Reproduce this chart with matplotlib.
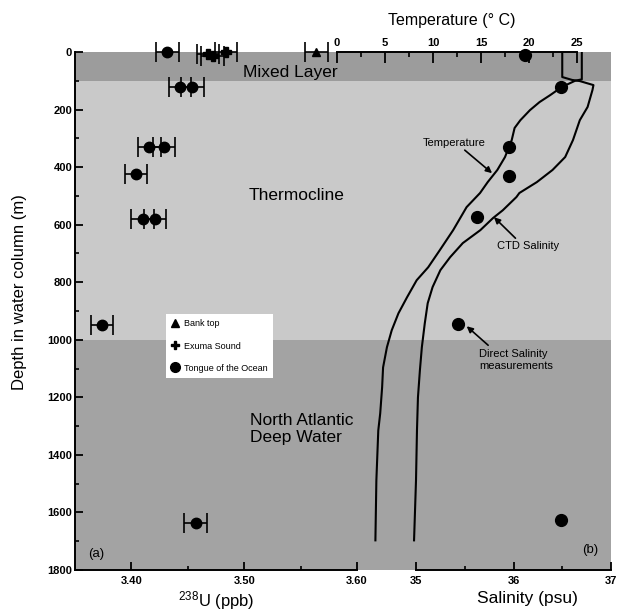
import matplotlib
matplotlib.use("Agg")
import matplotlib.pyplot as plt
from matplotlib.ticker import FixedLocator, MultipleLocator
from matplotlib.lines import Line2D

plt.rcParams["font.family"] = ["Liberation Sans", "DejaVu Sans"]
plt.rcParams["mathtext.fontset"] = "custom"
plt.rcParams["mathtext.rm"] = "Liberation Sans"
plt.rcParams["mathtext.it"] = "Liberation Sans:italic"

# (a) 238U profiles
tongue_depth = [0, 120, 120, 330, 330, 425, 580, 580, 950, 1635]
tongue_u = [3.432, 3.443, 3.454, 3.416, 3.429, 3.404, 3.410, 3.421, 3.374, 3.457]
tongue_err = [0.010, 0.010, 0.010, 0.010, 0.010, 0.010, 0.010, 0.010, 0.010, 0.010]

exuma_depth = [0, 8, 15]
exuma_u = [3.484, 3.468, 3.472]
exuma_err = [0.010, 0.010, 0.010]

bank_depth = [0]
bank_u = [3.564]
bank_err = [0.010]

# (b) CTD temperature / salinity and bottle salinity
temp_depth = [0, 95, 100, 122, 150, 174, 202, 237, 264, 306, 365, 410, 452, 490,
              539, 619, 689, 748, 793, 852, 908, 967, 1026, 1096, 1165, 1256,
              1315, 1489, 1697]
temp_c = [25.5, 25.5, 24.8, 23.4, 22.2, 21.1, 20.1, 19.1, 18.5, 18.2, 17.5, 16.7,
          15.7, 14.9, 13.5, 12.1, 10.7, 9.5, 8.3, 7.3, 6.4, 5.7, 5.2, 4.8, 4.7,
          4.5, 4.3, 4.1, 4.0]

sal_depth = [0, 87, 97, 101, 115, 132, 191, 237, 306, 365, 410, 452, 490, 504,
             550, 577, 619, 664, 713, 758, 817, 873, 943, 1026, 1106, 1200, 1315,
             1489, 1697]
sal_psu = [36.50, 36.50, 36.60, 36.68, 36.82, 36.81, 36.76, 36.68, 36.61, 36.53,
           36.40, 36.24, 36.06, 36.03, 35.89, 35.79, 35.66, 35.48, 35.35, 35.25,
           35.17, 35.12, 35.09, 35.06, 35.04, 35.02, 35.01, 35.00, 34.98]

direct_depth = [10, 120, 330, 430, 575, 945, 1625]
direct_psu = [36.12, 36.49, 35.95, 35.95, 35.63, 35.43, 36.49]

# water masses
layer_names = ["Mixed Layer", "Thermocline", "North Atlantic\nDeep Water"]
layer_top = [0, 100, 1000]
layer_bottom = [100, 1000, 1800]
layer_colors = ["#9c9c9c", "#c9c9c9", "#a3a3a3"]

W, H = 619, 612


def box(x0, x1, y0, y1):
    # pixel box (y from top) -> figure fraction rect
    return [x0 / W, 1 - y1 / H, (x1 - x0) / W, (y1 - y0) / H]


def bold_labels(ax, which="both"):
    labs = []
    if which in ("both", "x"):
        labs += ax.get_xticklabels()
    if which in ("both", "y"):
        labs += ax.get_yticklabels()
    for lab in labs:
        lab.set_fontweight("bold")


fig = plt.figure(figsize=(W / 100, H / 100), dpi=100)
fig.patch.set_facecolor("white")

# background bands
bg = fig.add_axes(box(75, 611, 52, 570))
bg.set_xlim(0, 1)
bg.set_ylim(1800, 0)
for top, bot, col in zip(layer_top, layer_bottom, layer_colors):
    bg.axhspan(top, bot, color=col, lw=0)
bg.axis("off")
bg.text(0.401, 70, layer_names[0], ha="center", va="center", fontsize=12.5)
bg.text(0.413, 497, layer_names[1], ha="center", va="center", fontsize=12.5)
bg.text(0.326, 1310, layer_names[2], ha="left", va="center", fontsize=12.5,
        linespacing=1.15)

# panel (a)
ax1 = fig.add_axes(box(75, 357, 52, 570))
ax1.patch.set_alpha(0)
ax1.set_xlim(3.35, 3.60)
ax1.set_ylim(1800, 0)
for s in ["top", "right"]:
    ax1.spines[s].set_visible(False)
for s in ["left", "bottom"]:
    ax1.spines[s].set_linewidth(1.4)
ax1.yaxis.set_major_locator(MultipleLocator(200))
ax1.yaxis.set_minor_locator(MultipleLocator(100))
ax1.xaxis.set_major_locator(FixedLocator([3.40, 3.50, 3.60]))
ax1.xaxis.set_minor_locator(FixedLocator([3.45, 3.55]))
ax1.set_xticklabels(["3.40", "3.50", "3.60"])
ax1.tick_params(axis="both", which="major", direction="in", length=5.5, width=1.3,
                labelsize=8, pad=2)
ax1.tick_params(axis="both", which="minor", direction="in", length=3, width=1.2)
ax1.tick_params(axis="x", pad=4)
bold_labels(ax1)

eb = dict(fmt="none", ecolor="black", elinewidth=1.2, capsize=7.5, capthick=1.2,
          clip_on=False)
ax1.errorbar(tongue_u, tongue_depth, xerr=tongue_err, **eb)
ax1.errorbar(exuma_u, exuma_depth, xerr=exuma_err, **eb)
ax1.errorbar(bank_u, bank_depth, xerr=bank_err, **eb)
ax1.plot(tongue_u, tongue_depth, "o", color="black", ms=7.5, clip_on=False, zorder=5)
ax1.plot(exuma_u, exuma_depth, "P", color="black", ms=6.5, clip_on=False, zorder=5)
ax1.plot(bank_u, bank_depth, "^", color="black", ms=6, clip_on=False, zorder=5)

ax1.text(3.369, 1743, "(a)", ha="center", va="center", fontsize=9.5)

handles = [Line2D([], [], ls="none", marker="^", color="black", ms=5.5),
           Line2D([], [], ls="none", marker="P", color="black", ms=6),
           Line2D([], [], ls="none", marker="o", color="black", ms=7)]
leg = ax1.legend(handles, ["Bank top", "Exuma Sound", "Tongue of the Ocean"],
                 loc="upper left", bbox_to_anchor=(166 / W, 1 - 314 / H),
                 bbox_transform=fig.transFigure, borderaxespad=0, fontsize=6.5,
                 frameon=True, fancybox=False, framealpha=1, edgecolor="white",
                 handlelength=0.9, handletextpad=0.5, labelspacing=1.45,
                 borderpad=0.6)
leg.get_frame().set_linewidth(0)

# panel (b): salinity (bottom) and temperature (top)
ax2 = fig.add_axes(box(75, 611, 52, 570))
ax2.patch.set_alpha(0)
ax2.set_xlim(35 - 341 / 97.5, 37)
ax2.set_ylim(1800, 0)
for s in ["top", "right", "left"]:
    ax2.spines[s].set_visible(False)
ax2.spines["bottom"].set_bounds(35, 37)
ax2.spines["bottom"].set_linewidth(1.4)
ax2.yaxis.set_visible(False)
ax2.xaxis.set_major_locator(FixedLocator([35, 36, 37]))
ax2.xaxis.set_minor_locator(FixedLocator([35.5, 36.5]))
ax2.tick_params(axis="x", which="major", direction="in", length=6, width=1.3,
                labelsize=8, pad=4)
ax2.tick_params(axis="x", which="minor", direction="in", length=3, width=1.2)
bold_labels(ax2, "x")

ax2.plot(sal_psu, sal_depth, color="black", lw=1.5)
ax2.plot(direct_psu, direct_depth, "o", color="black", ms=8.5, clip_on=False, zorder=6)
ax2.text(36.79, 1732, "(b)", ha="center", va="center", fontsize=9.5)

ax3 = ax2.twiny()
ax3.set_xlim((75 - 337) / 9.6, (611 - 337) / 9.6)
ax3.set_ylim(1800, 0)
for s in ["bottom", "right", "left"]:
    ax3.spines[s].set_visible(False)
ax3.spines["top"].set_bounds(0, 25)
ax3.spines["top"].set_linewidth(1.4)
ax3.xaxis.set_major_locator(FixedLocator([0, 5, 10, 15, 20, 25]))
ax3.xaxis.set_minor_locator(FixedLocator([2.5, 7.5, 12.5, 17.5, 22.5]))
ax3.tick_params(axis="x", which="major", direction="in", length=8, width=1.3,
                labelsize=8, pad=3)
ax3.tick_params(axis="x", which="minor", direction="in", length=3.5, width=1.2)
bold_labels(ax3, "x")
ax3.plot(temp_c, temp_depth, color="black", lw=1.5)

# annotations
arrow = dict(arrowstyle="-|>", color="black", lw=1.2, mutation_scale=9,
             shrinkA=0, shrinkB=0)
ax2.text(35.39, 317, "Temperature", ha="center", va="center", fontsize=8)
ax2.annotate("", xy=(35.78, 421), xytext=(35.50, 341), arrowprops=arrow)
ax2.text(36.15, 675, "CTD Salinity", ha="center", va="center", fontsize=8)
ax2.annotate("", xy=(35.80, 574), xytext=(36.02, 647), arrowprops=arrow)
ax2.text(35.65, 1071, "Direct Salinity\nmeasurements", ha="left", va="center",
         fontsize=8, linespacing=1.2)
ax2.annotate("", xy=(35.52, 953), xytext=(35.74, 1019), arrowprops=arrow)

# axis titles
fig.text(20 / W, 1 - 292 / H, "Depth in water column (m)", rotation=90,
         ha="center", va="center", fontsize=12)
fig.text(216 / W, 1 - 601 / H, r"$^{238}$U (ppb)", ha="center", va="center",
         fontsize=12)
fig.text(527 / W, 1 - 598 / H, "Salinity (psu)", ha="center", va="center",
         fontsize=12.5)
fig.text(452 / W, 1 - 20 / H, "Temperature (° C)", ha="center", va="center",
         fontsize=11.5)

fig.savefig("out.png", dpi=100)
